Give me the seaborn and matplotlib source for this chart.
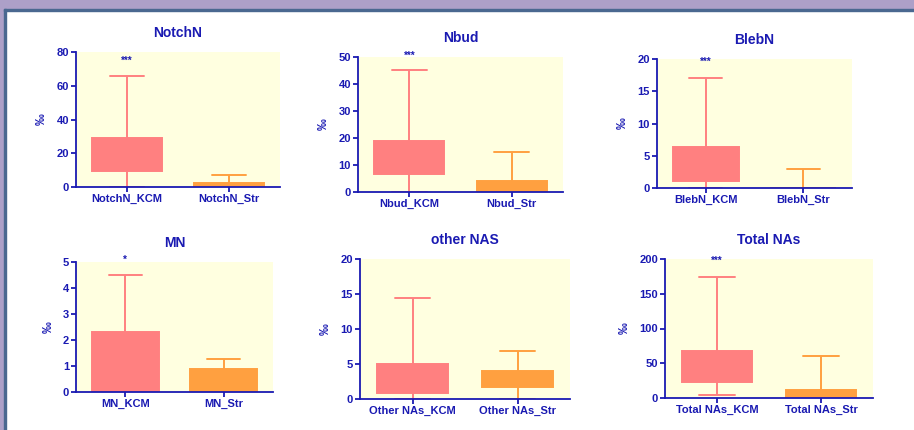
import pandas as pd
import seaborn as sns
import matplotlib.pyplot as plt
from matplotlib.patches import Rectangle

# panel titles and the two groups in each panel
titles = ["NotchN", "Nbud", "BlebN", "MN", "other NAS", "Total NAs"]
kcm_labels = ["NotchN_KCM", "Nbud_KCM", "BlebN_KCM", "MN_KCM", "Other NAs_KCM", "Total NAs_KCM"]
str_labels = ["NotchN_Str", "Nbud_Str", "BlebN_Str", "MN_Str", "Other NAs_Str", "Total NAs_Str"]

# five-number summaries: min, q1, median, q3, max
kcm_stats = [
    [0, 9.3, 18, 29.3, 65.8],
    [0, 6.7, 12, 19.0, 45.0],
    [0, 1.1, 3, 6.3, 17.0],
    [0, 0.0, 1.0, 2.3, 4.5],
    [0, 0.9, 2.5, 5.05, 14.5],
    [3.9, 23.0, 40, 67.5, 174],
]
str_stats = [
    [0, 0, 0.5, 2.4, 6.9],
    [0, 0, 1.0, 4.2, 14.7],
    [0, 0, 0, 0, 3.0],
    [0, 0, 0.4, 0.9, 1.26],
    [0, 1.7, 3.0, 4.05, 6.8],
    [0, 0, 3.0, 11.0, 61.0],
]

y_max = [80, 50, 20, 5, 20, 200]
y_step = [20, 10, 5, 1, 5, 50]

# significance marks above the KCM group
stars = ["***", "***", "***", "*", "", "***"]
star_y = [75, 50.6, 19.6, 5.1, 0, 197]

# axes boxes in pixels: left, right, top, bottom
panel_px = [
    (76, 280, 52, 187),
    (358, 563, 57, 192),
    (657, 852, 59, 188),
    (76, 273, 262, 392),
    (360, 570, 259, 399),
    (665, 873, 259, 398),
]

W, H = 914, 430
navy = "#1a1ab2"
palette = ["#ff8080", "#ffa040"]

sns.set_style("ticks")
plt.rcParams["font.family"] = ["Liberation Sans", "DejaVu Sans"]
plt.rcParams["font.weight"] = "bold"

fig = plt.figure(figsize=(W / 100, H / 100), dpi=100)
fig.patch.set_facecolor("white")

# page frame: lavender band on top and left with a dark inner edge
purple = "#ada0c8"
edge = "#4a6890"
fig.patches.append(Rectangle((0, 1 - 9 / H), 1, 9 / H, transform=fig.transFigure, color=purple, zorder=0))
fig.patches.append(Rectangle((0, 0), 4 / W, 1, transform=fig.transFigure, color=purple, zorder=0))
fig.patches.append(Rectangle((4 / W, 1 - 10.5 / H), 1, 2 / H, transform=fig.transFigure, color=edge, zorder=1))
fig.patches.append(Rectangle((4 / W, 0), 2 / W, 1 - 9 / H, transform=fig.transFigure, color=edge, zorder=1))

for i, title in enumerate(titles):
    l, r, t, b = panel_px[i]
    ax = fig.add_axes([l / W, 1 - b / H, (r - l) / W, (b - t) / H])
    ax.set_facecolor("#ffffe0")

    df = pd.DataFrame({
        "group": [kcm_labels[i]] * 5 + [str_labels[i]] * 5,
        "value": kcm_stats[i] + str_stats[i],
    })
    sns.boxplot(data=df, x="group", y="value", hue="group", palette=palette,
                whis=(0, 100), width=0.68, linewidth=1.4, showfliers=False,
                legend=False, ax=ax)

    # GraphPad style: box, median and whiskers all in the group colour
    for c, color in zip(ax.containers, palette):
        for box in c.boxes:
            box.set_edgecolor(color)
            box.set_facecolor(color)
        for line in list(c.whiskers) + list(c.caps) + list(c.medians):
            line.set_color(color)

    ax.set_ylim(0, y_max[i])
    ax.set_yticks(range(0, y_max[i] + 1, y_step[i]))
    ax.set_xlabel("")
    ax.set_ylabel("‰", color=navy, fontsize=8.5, fontweight="bold", labelpad=6)
    ax.set_title(title, color=navy, fontsize=10, fontweight="bold", pad=11)

    if stars[i]:
        ax.text(0, star_y[i], stars[i], color=navy, fontsize=7, ha="center",
                va="center", clip_on=False)

    sns.despine(ax=ax)
    for side in ["left", "bottom"]:
        ax.spines[side].set_color(navy)
        ax.spines[side].set_linewidth(1.3)
    ax.tick_params(colors=navy, labelcolor=navy, width=1.3, length=3.5,
                   labelsize=8, pad=1.5)
    for lab in ax.get_xticklabels() + ax.get_yticklabels():
        lab.set_fontweight("bold")

fig.savefig("out.png", dpi=100)
